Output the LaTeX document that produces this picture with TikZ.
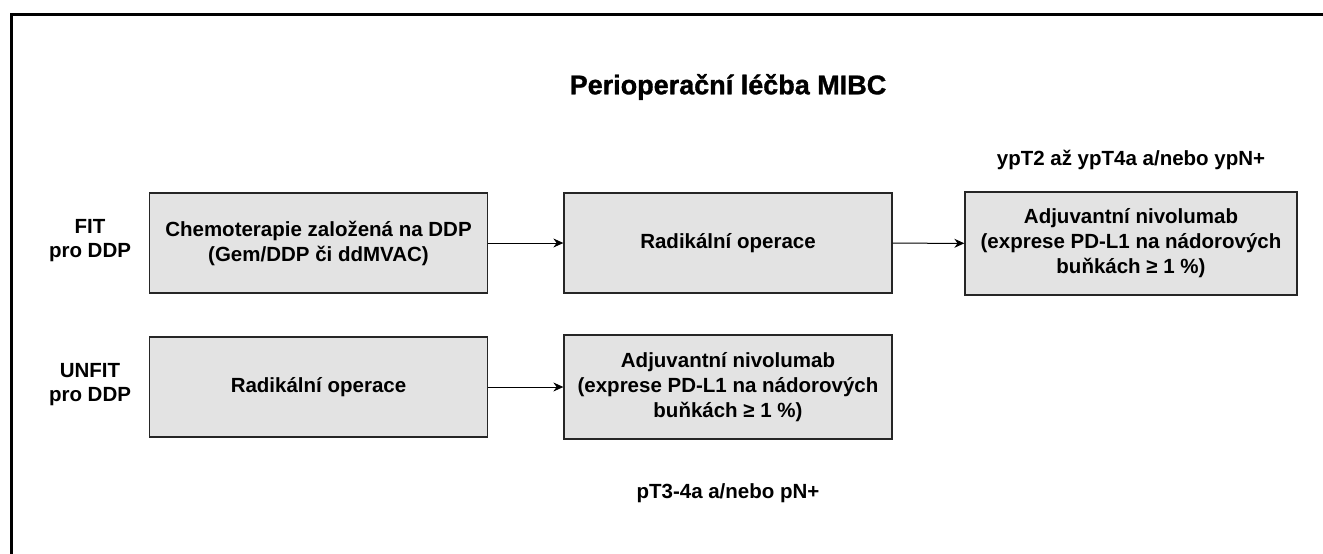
\documentclass[tikz,border=0pt]{standalone}
\usepackage{fontspec}
\setmainfont{Liberation Sans}
\newfontfamily\titlefont[FakeBold=1.2]{Liberation Sans Bold}
\usetikzlibrary{arrows.meta}

\tikzset{
  box/.style = {draw = black!85, line width = 1.3pt, fill = black!11, align = center,
                font = \fontsize{20.5}{25}\selectfont\bfseries},
  lbl/.style = {align = center, font = \fontsize{20.5}{24}\selectfont\bfseries},
  arr/.style = {line width = 1pt, -{Stealth[length = 10pt, width = 9pt]}}
}

\begin{document}
\begin{tikzpicture} [x = 1pt, y = -1pt]
\useasboundingbox (0, 0) rectangle (1323, 554);
\clip (0, 0) rectangle (1323, 554);
\draw[black, line width = 3pt] (11, 620) -- (11, 14) -- (1400, 14);
\node[font = \fontsize{27}{30}\selectfont\titlefont] (title) at (728, 87){Perioperační léčba MIBC};
\node[lbl] (fit) at (90, 241){FIT\\pro DDP};
\node[lbl] (unfit) at (90, 385){UNFIT\\pro DDP};
\node[box, minimum width = 338pt, minimum height = 100pt] (chemo) at (318.5, 243){Chemoterapie založená na DDP\\(Gem/DDP či ddMVAC)};
\node[box, minimum width = 328pt, minimum height = 100pt] (opfit) at (728, 243){Radikální operace};
\node[box, minimum width = 332pt, minimum height = 103pt] (nivofit) at (1131, 243.5){Adjuvantní nivolumab\\(exprese PD-L1 na nádorových\\buňkách ≥ 1 \%)};
\node[box, minimum width = 338pt, minimum height = 100pt] (opunfit) at (318.5, 387){Radikální operace};
\node[box, minimum width = 328pt, minimum height = 104pt] (nivounfit) at (728, 387){Adjuvantní nivolumab\\(exprese PD-L1 na nádorových\\buňkách ≥ 1 \%)};
\node[lbl] (yp) at (1131, 160){ypT2 až ypT4a a/nebo ypN+};
\node[lbl] (pt) at (728, 493){pT3-4a a/nebo pN+};
\draw[arr] (chemo) -- (opfit);
\draw[arr] (opfit) -- (nivofit);
\draw[arr] (opunfit) -- (nivounfit);
\end{tikzpicture}
\end{document}
